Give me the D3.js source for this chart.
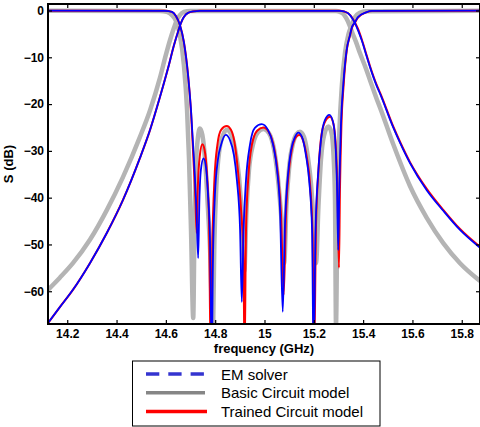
<!DOCTYPE html>
<html><head><meta charset="utf-8">
<script src="https://cdn.jsdelivr.net/npm/d3@7"></script>
<style>
html,body{margin:0;padding:0;background:#fff;}
svg{display:block;font-family:"Liberation Sans",Arial,Helvetica,sans-serif;}
</style></head>
<body><svg id="c" width="480" height="427"></svg>
<script>
// ---- data (frequency GHz, dB) ----
const xTicks = [14.2,14.4,14.6,14.8,15,15.2,15.4,15.6,15.8];
const yTicks = [0,-10,-20,-30,-40,-50,-60];
const legendLabels = ["EM solver","Basic Circuit model","Trained Circuit model"];

const emS11 = [[14.122,-0.04],[14.596,-0.06],[14.625,-0.3],[14.641,-1.2],[14.657,-3.1],[14.673,-6.7],[14.690,-13.8],[14.702,-21.3],[14.714,-31.9],[14.724,-42.6],[14.731,-52.9],[14.736,-40.5],[14.742,-34.1],[14.753,-31.6],[14.763,-33.7],[14.771,-39.4],[14.779,-49.0],[14.786,-75],[14.791,-53.3],[14.799,-39.4],[14.811,-31.9],[14.824,-28.7],[14.843,-26.6],[14.860,-27.7],[14.876,-30.9],[14.888,-36.2],[14.901,-46.9],[14.908,-62.3],[14.915,-46.9],[14.925,-36.2],[14.941,-28.7],[14.961,-25.1],[14.989,-24.3],[15.014,-25.5],[15.035,-28.7],[15.051,-34.1],[15.063,-42.6],[15.074,-64.4],[15.083,-45.8],[15.095,-35.2],[15.108,-29.8],[15.124,-27.0],[15.137,-26.1],[15.152,-27.0],[15.168,-30.9],[15.181,-36.2],[15.193,-46.9],[15.199,-75],[15.207,-46.9],[15.217,-35.2],[15.229,-27.7],[15.245,-23.4],[15.263,-22.3],[15.278,-23.8],[15.288,-28.7],[15.294,-37.3],[15.299,-51.2],[15.304,-36.2],[15.310,-24.5],[15.320,-15.5],[15.333,-8.5],[15.347,-5.2],[15.355,-3.5],[15.367,-2.5],[15.379,-1.4],[15.412,-0.4],[15.436,-0.1],[15.874,-0.04]];

const emS21 = [[14.122,-66.8],[14.170,-63.4],[14.223,-59.7],[14.292,-54.0],[14.361,-47.5],[14.426,-40.5],[14.495,-31.5],[14.536,-25.5],[14.576,-18.5],[14.609,-12.3],[14.633,-7.4],[14.649,-4.6],[14.661,-2.7],[14.673,-1.4],[14.690,-0.5],[14.714,-0.17],[14.738,-0.06],[15.306,-0.06],[15.323,-0.2],[15.339,-0.6],[15.355,-1.6],[15.367,-2.7],[15.379,-4.2],[15.394,-6.3],[15.415,-9.9],[15.428,-12.1],[15.455,-16.1],[15.469,-17.8],[15.523,-25.1],[15.550,-28.3],[15.590,-32.6],[15.658,-38.4],[15.725,-42.8],[15.793,-46.9],[15.874,-50.7]];

const trainedS11 = [[14.122,-0.04],[14.596,-0.06],[14.625,-0.3],[14.641,-1.2],[14.657,-3.1],[14.673,-6.7],[14.690,-13.8],[14.702,-21.7],[14.712,-31.9],[14.720,-40.5],[14.725,-47.5],[14.730,-37.3],[14.738,-30.9],[14.748,-28.6],[14.757,-29.8],[14.767,-35.2],[14.775,-44.8],[14.782,-75],[14.789,-49.0],[14.797,-36.2],[14.809,-28.7],[14.824,-25.5],[14.847,-24.7],[14.864,-25.5],[14.880,-28.7],[14.892,-34.1],[14.905,-42.6],[14.915,-53.3],[14.919,-75],[14.925,-46.9],[14.935,-35.2],[14.949,-28.7],[14.970,-25.7],[14.995,-25.0],[15.018,-26.0],[15.039,-29.4],[15.055,-35.2],[15.067,-43.7],[15.078,-60.8],[15.087,-43.7],[15.099,-34.1],[15.112,-29.4],[15.126,-27.2],[15.141,-26.6],[15.156,-27.7],[15.172,-31.5],[15.185,-37.3],[15.195,-48.0],[15.201,-75],[15.209,-45.8],[15.219,-34.1],[15.231,-26.6],[15.247,-23.6],[15.266,-22.7],[15.280,-24.3],[15.290,-29.8],[15.296,-38.4],[15.302,-55.0],[15.306,-38.4],[15.312,-24.5],[15.321,-15.9],[15.333,-8.7],[15.347,-5.3],[15.355,-3.6],[15.367,-2.6],[15.379,-1.5],[15.412,-0.4],[15.436,-0.1],[15.874,-0.04]];

const trainedS21 = [[14.122,-66.8],[14.170,-63.4],[14.223,-59.7],[14.292,-54.0],[14.361,-47.5],[14.426,-40.5],[14.495,-31.5],[14.536,-25.5],[14.576,-18.5],[14.609,-12.3],[14.633,-7.4],[14.649,-4.6],[14.661,-2.7],[14.673,-1.4],[14.690,-0.5],[14.714,-0.17],[14.738,-0.06],[15.306,-0.06],[15.323,-0.2],[15.339,-0.6],[15.355,-1.5],[15.367,-2.6],[15.379,-3.9],[15.394,-6.1],[15.415,-9.7],[15.428,-11.9],[15.455,-15.9],[15.469,-17.6],[15.523,-24.9],[15.550,-28.1],[15.590,-32.4],[15.658,-38.1],[15.725,-42.6],[15.793,-46.7],[15.874,-50.5]];

const basicS11 = [[14.122,-0.06],[14.576,-0.1],[14.604,-0.3],[14.625,-1.0],[14.641,-2.2],[14.657,-5.2],[14.673,-11.6],[14.686,-21.3],[14.694,-31.9],[14.702,-46.9],[14.711,-65.7],[14.716,-46.9],[14.722,-33.0],[14.730,-27.2],[14.738,-25.2],[14.748,-26.6],[14.759,-31.9],[14.771,-42.6],[14.781,-53.3],[14.790,-70],[14.797,-49.0],[14.805,-37.3],[14.817,-29.8],[14.832,-26.6],[14.847,-25.5],[14.864,-26.4],[14.880,-29.4],[14.897,-35.8],[14.909,-44.8],[14.918,-55.8],[14.927,-42.6],[14.937,-34.1],[14.953,-28.7],[14.974,-26.0],[14.996,-25.3],[15.018,-26.2],[15.039,-29.8],[15.055,-36.2],[15.069,-44.8],[15.080,-54.0],[15.089,-41.6],[15.101,-33.0],[15.116,-28.3],[15.130,-26.4],[15.144,-25.9],[15.160,-27.0],[15.176,-31.3],[15.189,-37.3],[15.201,-46.9],[15.209,-54.0],[15.219,-41.6],[15.229,-31.9],[15.241,-26.8],[15.259,-24.8],[15.272,-26.2],[15.280,-30.9],[15.286,-40.5],[15.290,-67.2],[15.296,-40.5],[15.304,-25.5],[15.314,-15.9],[15.327,-8.9],[15.340,-5.2],[15.354,-3.1],[15.367,-1.4],[15.387,-0.5],[15.412,-0.17],[15.874,-0.06]];

const basicS21 = [[14.122,-59.7],[14.170,-57.1],[14.223,-54.0],[14.292,-49.0],[14.361,-42.6],[14.426,-35.6],[14.495,-27.0],[14.536,-21.3],[14.576,-14.4],[14.600,-9.5],[14.617,-6.3],[14.633,-3.7],[14.645,-2.0],[14.657,-1.0],[14.673,-0.3],[14.698,-0.1],[15.290,-0.1],[15.306,-0.3],[15.319,-0.7],[15.331,-1.6],[15.343,-2.9],[15.355,-4.6],[15.371,-6.7],[15.387,-9.1],[15.412,-12.5],[15.428,-14.9],[15.455,-18.9],[15.469,-20.8],[15.523,-28.7],[15.590,-37.5],[15.658,-44.3],[15.725,-49.7],[15.793,-54.0],[15.874,-57.8]];

// ---- layout ----
const L = 48, R = 480, T = 4, B = 324;
const svg = d3.select("#c");
const x = d3.scaleLinear().domain([14.122, 15.874]).range([L, R]);
const y = d3.scaleLinear().domain([-67, 1.39]).range([B, T]);

svg.append("defs").append("clipPath").attr("id","clip")
  .append("rect").attr("x",L).attr("y",T).attr("width",R-L).attr("height",B-T);

const line = d3.line().x(d=>x(d[0])).y(d=>y(d[1])).curve(d3.curveMonotoneX);
const g = svg.append("g").attr("clip-path","url(#clip)");

const series = [
  {d: basicS21, c:"#b4b4b4", w:4.5},
  {d: basicS11, c:"#b4b4b4", w:4.5},
  {d: trainedS21, c:"#ff0000", w:2},
  {d: trainedS11, c:"#ff0000", w:2},
  {d: emS21, c:"#0000ff", w:1.8},
  {d: emS11, c:"#0000ff", w:1.8}
];
series.forEach(s => g.append("path").attr("d", line(s.d)).attr("fill","none")
  .attr("stroke", s.c).attr("stroke-width", s.w).attr("stroke-linejoin","round"));

// ---- axes ----
const fmtX = d => d3.format("")(+d.toFixed(1));
const axB = svg.append("g").attr("transform",`translate(0,${B})`)
  .call(d3.axisBottom(x).tickValues(xTicks).tickFormat(fmtX).tickSizeInner(-4).tickSizeOuter(0).tickPadding(5));
const axT = svg.append("g").attr("transform",`translate(0,${T})`)
  .call(d3.axisTop(x).tickValues(xTicks).tickFormat("").tickSizeInner(-4).tickSizeOuter(0));
const axL = svg.append("g").attr("transform",`translate(${L},0)`)
  .call(d3.axisLeft(y).tickValues(yTicks).tickFormat(d3.format("d")).tickSizeInner(-4).tickSizeOuter(0).tickPadding(4));
const axR = svg.append("g").attr("transform",`translate(${R},0)`)
  .call(d3.axisRight(y).tickValues(yTicks).tickFormat("").tickSizeInner(-4).tickSizeOuter(0));
[axB,axT,axL,axR].forEach(a => {
  a.select(".domain").remove();
  a.selectAll(".tick line").attr("stroke","#000").attr("stroke-width",1.2);
  a.selectAll("text").attr("font-family","'Liberation Sans',Arial,sans-serif")
   .attr("font-size",12).attr("font-weight","bold").attr("fill","#000");
});
svg.append("rect").attr("x",L).attr("y",T).attr("width",R-L).attr("height",B-T)
  .attr("fill","none").attr("stroke","#000").attr("stroke-width",2);

svg.append("text").attr("x",(L+R)/2).attr("y",353).attr("text-anchor","middle")
  .attr("font-size",13).attr("font-weight","bold").text("frequency (GHz)");
svg.append("text").attr("transform",`translate(13,${(T+B)/2}) rotate(-90)`).attr("text-anchor","middle")
  .attr("font-size",13).attr("font-weight","bold").text("S (dB)");

// ---- legend ----
const lg = svg.append("g");
lg.append("rect").attr("x",132.5).attr("y",361).attr("width",247.5).attr("height",65)
  .attr("fill","#fff").attr("stroke","#000").attr("stroke-width",1);
const legStyle = [
  {c:"#3434d0", dash:"13.3,9", x2:204},
  {c:"#868686", dash:null, x2:205},
  {c:"#ff0000", dash:null, x2:207}
];
const rowY = [374, 392.7, 411.5];
legendLabels.forEach((lab,i) => {
  const l = lg.append("line").attr("x1",146).attr("x2",legStyle[i].x2)
    .attr("y1",rowY[i]).attr("y2",rowY[i]).attr("stroke",legStyle[i].c).attr("stroke-width",3.5);
  if (legStyle[i].dash) l.attr("stroke-dasharray",legStyle[i].dash);
  lg.append("text").attr("x",221).attr("y",rowY[i]+5.5).attr("font-size",15).attr("fill","#000").text(lab);
});
</script></body></html>
